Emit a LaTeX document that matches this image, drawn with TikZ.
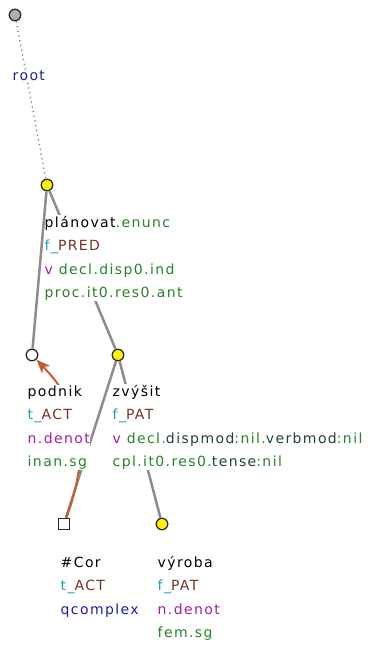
\documentclass[tikz,border=0pt]{standalone}
\usepackage{fontspec}
\setmainfont{DejaVu Sans}[LetterSpace=10]
\usepackage{xcolor}
\definecolor{tgreen}{RGB}{40,130,40}
\definecolor{tdkgreen}{RGB}{30,70,45}
\definecolor{tteal}{RGB}{30,160,170}
\definecolor{tbrown}{RGB}{120,50,35}
\definecolor{tmagenta}{RGB}{160,30,160}
\definecolor{tblue}{RGB}{30,30,160}
\definecolor{tedge}{RGB}{140,140,140}
\definecolor{tcoref}{RGB}{200,90,50}
\definecolor{troot}{RGB}{175,175,175}
\usetikzlibrary{arrows.meta,positioning}

\begin{document}
\begin{tikzpicture}[x=1pt,y=-1pt,
    tnode/.style={circle, draw=black!85, line width=1.3pt, minimum size=11.5pt, inner sep=0pt, fill=yellow},
    tsquare/.style={rectangle, draw=black!85, line width=1.3pt, minimum size=11.5pt, inner sep=0pt, fill=white},
    lbl/.style={anchor=base west, align=left, inner sep=0.5pt, fill=white, font=\fontsize{14}{23.5}\selectfont},
    tedgeline/.style={draw=tedge, line width=2.5pt},
    troot/.style={draw=black!50, line width=1.3pt, dash pattern=on 1.3pt off 3.5pt},
    tcorefline/.style={draw=tcoref, line width=2pt, -{Stealth[length=14pt,width=11pt,inset=4pt]}}
  ]
    \useasboundingbox (0,0) rectangle (373,645);
    % tree nodes
    \node[tnode, fill=troot] (root)     at (15,15)   {};
    \node[tnode]             (planovat) at (47,185)  {};
    \node[tnode, fill=white] (podnik)   at (32,355)  {};
    \node[tnode]             (zvysit)   at (118,355) {};
    \node[tsquare]           (cor)      at (64,524)  {};
    \node[tnode]             (vyroba)   at (162,524) {};
    % edges under the labels
    \draw[troot]      (root) -- (planovat);
    \draw[tedgeline]  (planovat) -- (zvysit);
    \draw[tedgeline]  (zvysit) -- (cor);
    \draw[tedgeline]  (zvysit) -- (vyroba);
    \draw[tcorefline] (cor) .. controls (95,440) and (75,400) .. (podnik);
    % labels (base = last line)
    \node[lbl] (root-l) at (12,80) {\textcolor{tblue}{root}};
    \node[lbl] (planovat-l) at (44,297.5) {plánovat\textcolor{tgreen}{.enunc}\\
      \textcolor{tteal}{f\_}\textcolor{tbrown}{PRED}\\
      \textcolor{tmagenta}{v} \textcolor{tgreen}{decl.disp0.ind}\\
      \textcolor{tgreen}{proc.it0.res0.ant}};
    \node[lbl] (podnik-l) at (27,466.5) {podnik\\
      \textcolor{tteal}{t\_}\textcolor{tbrown}{ACT}\\
      \textcolor{tmagenta}{n.denot}\\
      \textcolor{tgreen}{inan.sg}};
    \node[lbl] (zvysit-l) at (112,466.5) {zvýšit\\
      \textcolor{tteal}{f\_}\textcolor{tbrown}{PAT}\\
      \textcolor{tmagenta}{v} \textcolor{tgreen}{decl.}\textcolor{tdkgreen}{dispmod}\textcolor{tgreen}{:nil.}\textcolor{tdkgreen}{verbmod}\textcolor{tgreen}{:nil}\\
      \textcolor{tgreen}{cpl.it0.res0.}\textcolor{tdkgreen}{tense}\textcolor{tgreen}{:nil}};
    \node[lbl] (cor-l) at (60,614) {\#Cor\\
      \textcolor{tteal}{t\_}\textcolor{tbrown}{ACT}\\
      \textcolor{tblue}{qcomplex}};
    \node[lbl] (vyroba-l) at (157,637.5) {výroba\\
      \textcolor{tteal}{f\_}\textcolor{tbrown}{PAT}\\
      \textcolor{tmagenta}{n.denot}\\
      \textcolor{tgreen}{fem.sg}};
    % edge over the labels
    \draw[tedgeline] (planovat) -- (podnik);
  \end{tikzpicture}
\end{document}
